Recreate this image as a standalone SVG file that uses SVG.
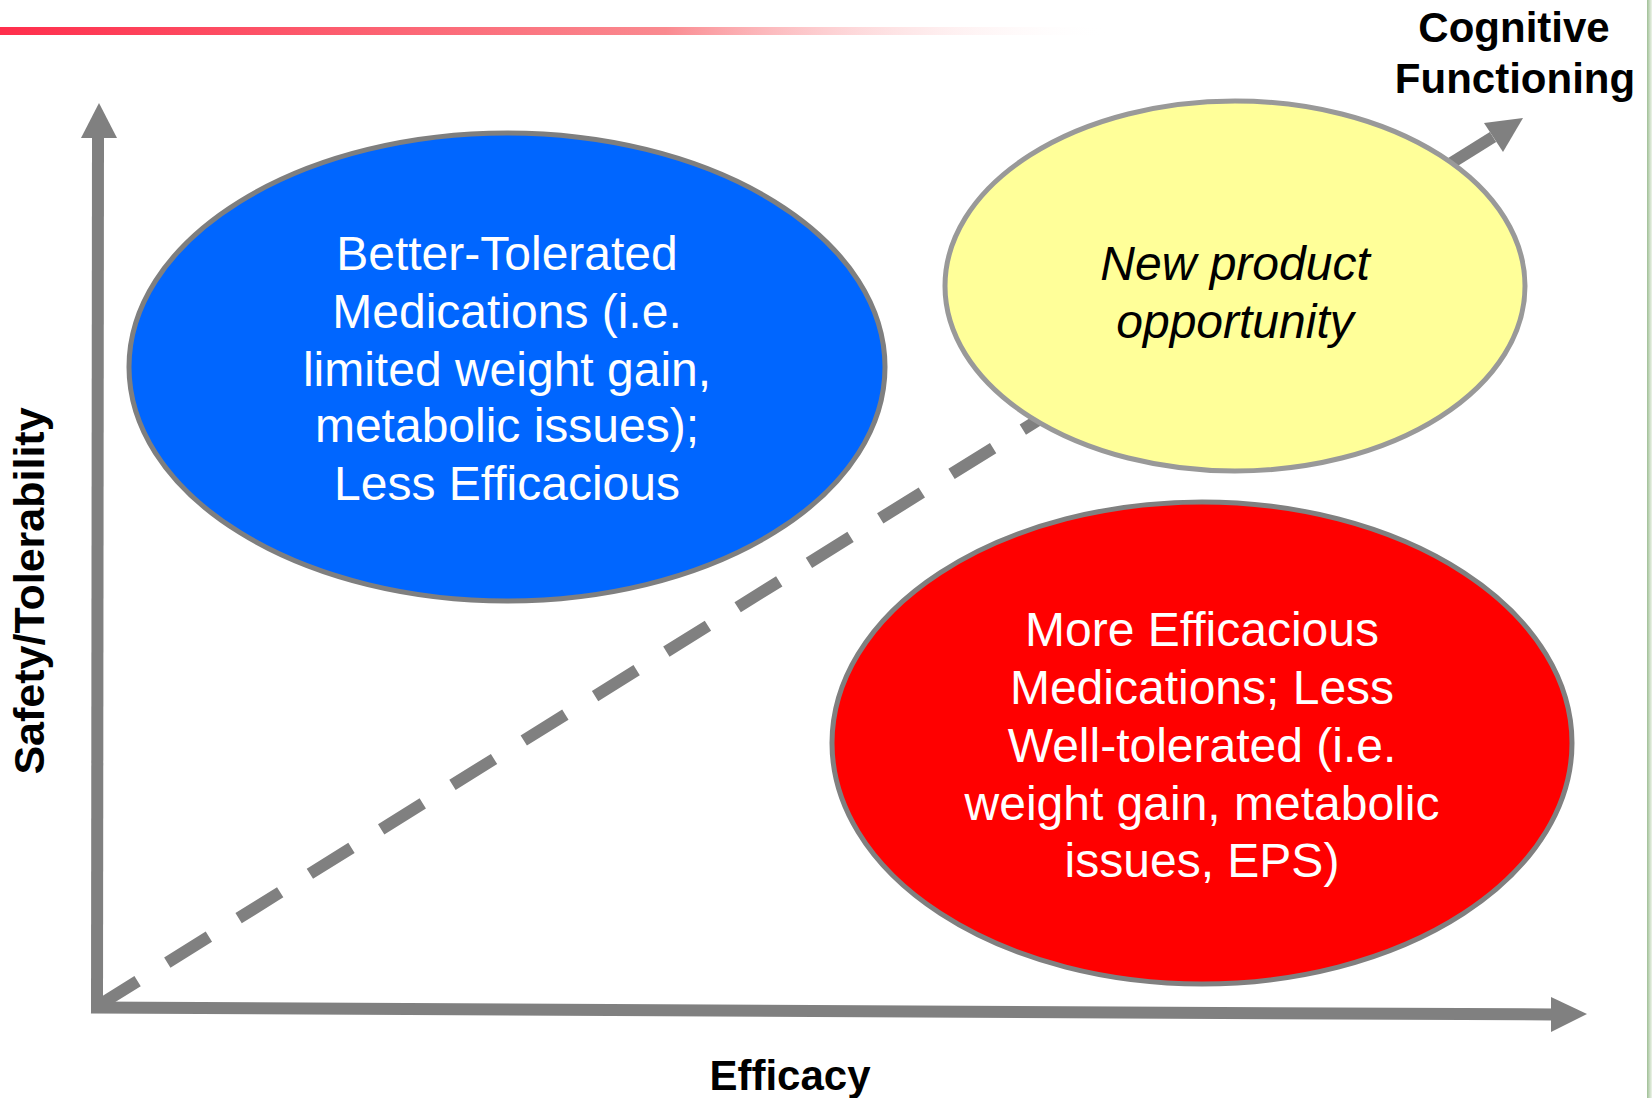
<svg xmlns="http://www.w3.org/2000/svg" width="1652" height="1098" viewBox="0 0 1652 1098">
<defs>
<linearGradient id="topbar" x1="0" y1="0" x2="1" y2="0">
<stop offset="0" stop-color="#ff2e4c"/>
<stop offset="0.6" stop-color="#fa8a90"/>
<stop offset="1" stop-color="#ffffff" stop-opacity="0"/>
</linearGradient>
<linearGradient id="sidebar" x1="0" y1="0" x2="1" y2="0">
<stop offset="0" stop-color="#9fbf95"/>
<stop offset="1" stop-color="#eef4ea"/>
</linearGradient>
<style>
.axis{stroke:#808080;stroke-width:12;fill:none}
.head{fill:#808080}
.dash{stroke:#808080;stroke-width:12;fill:none;stroke-dasharray:49 35}
.lbl{font-family:"Liberation Sans",Arial,sans-serif;font-weight:bold;font-size:42px;fill:#000}
.wt{font-family:"Liberation Sans",Arial,sans-serif;font-size:48px;fill:#fff;text-anchor:middle}
.it{font-family:"Liberation Sans",Arial,sans-serif;font-size:48px;font-style:italic;fill:#000;text-anchor:middle}
</style>
</defs>
<rect x="0" y="0" width="1652" height="1098" fill="#fff"/>
<rect x="0" y="27" width="1110" height="8" fill="url(#topbar)"/>
<rect x="1647" y="0" width="5" height="1098" fill="url(#sidebar)"/>

<g id="connectors">
<line class="axis" x1="97" y1="1013" x2="98" y2="136"/>
<polygon class="head" points="81,138 117,138 99,103"/>
<line class="axis" x1="91" y1="1007.5" x2="1553" y2="1014.5"/>
<polygon class="head" points="1551,997 1551,1032 1587,1014"/>
<line class="dash" x1="96" y1="1007" x2="1120" y2="369"/>
<line class="axis" x1="1400" y1="195" x2="1493" y2="137"/>
<polygon class="head" points="1484,123 1503,152 1523,118"/>
</g>

<g id="node-blue">
<ellipse cx="507" cy="367" rx="378" ry="234" fill="#0066ff" stroke="#7f7f7f" stroke-width="5"/>
<text class="wt" x="507" y="270">Better-Tolerated</text>
<text class="wt" x="507" y="328">Medications (i.e.</text>
<text class="wt" x="507" y="386">limited weight gain,</text>
<text class="wt" x="507" y="442">metabolic issues);</text>
<text class="wt" x="507" y="500">Less Efficacious</text>
</g>

<g id="node-yellow">
<ellipse cx="1235" cy="286" rx="290" ry="185" fill="#ffff99" stroke="#999999" stroke-width="5"/>
<text class="it" x="1235" y="280">New product</text>
<text class="it" x="1235" y="338">opportunity</text>
</g>

<g id="node-red">
<ellipse cx="1202" cy="743" rx="370" ry="241" fill="#ff0000" stroke="#808080" stroke-width="5"/>
<text class="wt" x="1202" y="646">More Efficacious</text>
<text class="wt" x="1202" y="704">Medications; Less</text>
<text class="wt" x="1202" y="762">Well-tolerated (i.e.</text>
<text class="wt" x="1202" y="820">weight gain, metabolic</text>
<text class="wt" x="1202" y="877">issues, EPS)</text>
</g>

<g id="label-cognitive">
<text class="lbl" x="1514" y="42" text-anchor="middle">Cognitive</text>
<text class="lbl" x="1515" y="93" text-anchor="middle">Functioning</text>
</g>
<g id="label-y">
<text class="lbl" transform="translate(44,591) rotate(-90)" text-anchor="middle" style="font-size:43px">Safety/Tolerability</text>
</g>
<g id="label-x">
<text class="lbl" x="790" y="1090" text-anchor="middle">Efficacy</text>
</g>
</svg>
